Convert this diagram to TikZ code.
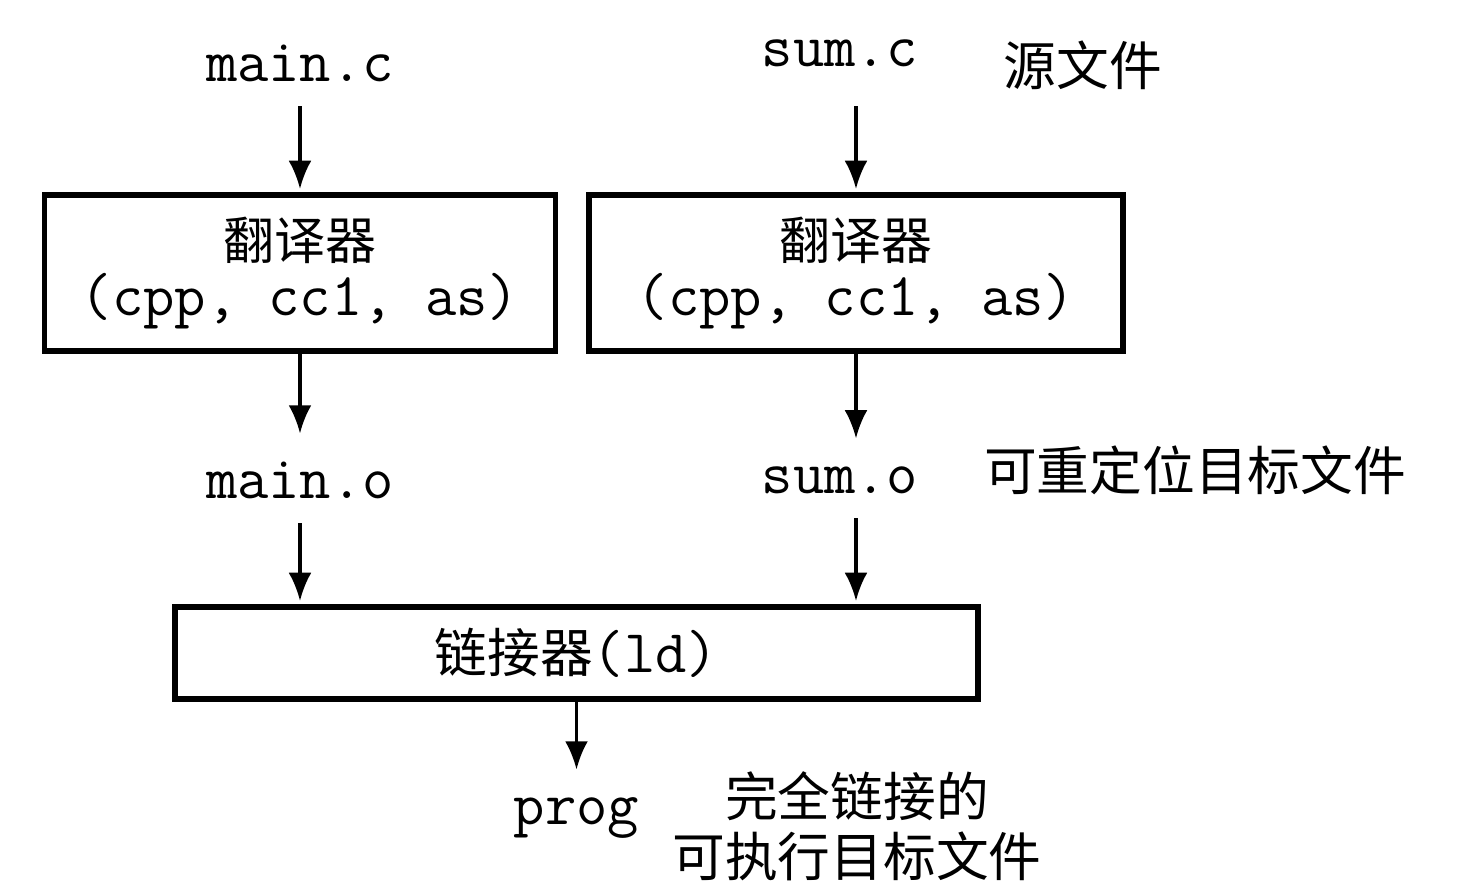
\documentclass[tikz,border=0pt]{standalone}
\usepackage{fontspec}
\newfontfamily\cjk{Noto Sans CJK SC}
\usetikzlibrary{arrows.meta}

\begin{document}
\begin{tikzpicture}[
  box/.style={draw, line width=1.5pt, inner sep=0pt, align=center},
  file/.style={font=\ttfamily\fontsize{17.3}{20}\selectfont, inner sep=0pt, outer sep=7pt},
  note/.style={font=\cjk\fontsize{15}{17}\selectfont, inner sep=0pt, align=center},
  arr/.style={-{Latex[length=8pt,width=6.5pt]}, line width=0.9pt, shorten >=1pt}
]
\useasboundingbox (0,0) rectangle (14.8,-8.92);

% Source files
\node[file] (mainc) at (3.0,-0.63) {main.c};
\node[file] (sumc)  at (8.40,-0.53) {sum.c};
\node[note] (srcnote) at (10.83,-0.65) {源文件};

% Translators
\node[box, minimum width=5.11cm, minimum height=1.56cm] (trmain) at (3.0,-2.73)
  {{\cjk\fontsize{14.5}{17}\selectfont 翻译器}\\[2pt]{\ttfamily\fontsize{17.3}{20}\selectfont (cpp, cc1, as)}};
\node[box, minimum width=5.34cm, minimum height=1.56cm] (trsum) at (8.56,-2.73)
  {{\cjk\fontsize{14.5}{17}\selectfont 翻译器}\\[2pt]{\ttfamily\fontsize{17.3}{20}\selectfont (cpp, cc1, as)}};
\draw[arr] (mainc) -- (trmain);
\draw[arr] (mainc.south -| trsum.north) -- (trsum.north);

% Relocatable object files
\node[file] (maino) at (3.0,-4.80) {main.o};
\node[file] (sumo)  at (8.40,-4.80) {sum.o};
\node[note] (objnote) at (11.95,-4.70) {可重定位目标文件};
\draw[arr] (trmain) -- (maino);
\draw[arr] (trsum.south) -- (trsum.south |- sumo.north);

% Linker
\node[box, minimum width=8.03cm, minimum height=0.92cm] (linker) at (5.765,-6.53)
  {{\cjk\fontsize{15}{18}\selectfont 链接器}{\ttfamily\fontsize{17.3}{20}\selectfont (ld)}};
\draw[arr] (maino) -- (maino |- linker.north);
\draw[arr] (sumo.south -| trsum.south) -- (trsum.south |- linker.north);

% Executable
\node[file] (prog) at (5.765,-8.18) {prog};
\node[note] (exenote) at (8.57,-8.26) {完全链接的\\可执行目标文件};
\draw[arr] (linker) -- (prog);
\end{tikzpicture}
\end{document}
